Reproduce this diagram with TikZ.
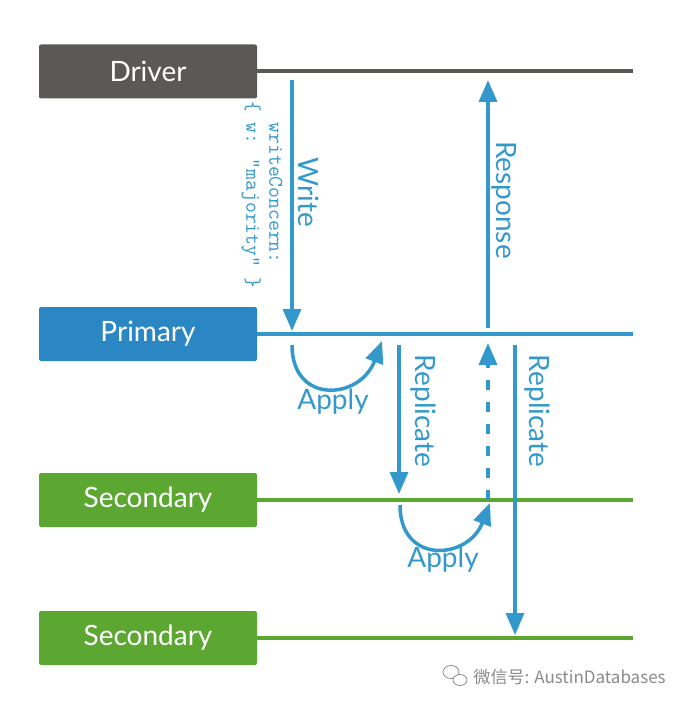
\documentclass[tikz,border=0pt]{standalone}
\usepackage{fontspec}
\setmainfont{Lato}
\newfontfamily\cjkfont{Noto Sans CJK SC}
\usetikzlibrary{arrows.meta}

\definecolor{drvgray}{HTML}{5B5955}
\definecolor{primblue}{HTML}{2B87C3}
\definecolor{lineblue}{HTML}{3399CC}
\definecolor{secgreen}{HTML}{5CA732}
\definecolor{markgray}{HTML}{8A8A8A}

\tikzset{
  box/.style={rectangle,rounded corners=2pt,minimum width=218pt,minimum height=54pt,
    text=white,font=\fontsize{28}{30}\selectfont},
  lane/.style={line width=4pt},
  msg/.style={line width=3.5pt,draw=lineblue,-{Triangle[width=18pt,length=22pt]}},
  msglabel/.style={text=lineblue,font=\fontsize{28}{30}\selectfont},
}

\begin{document}
\begin{tikzpicture}[x=1pt,y=-1pt]
\useasboundingbox (0,0) rectangle (688,706);
% hosts
\node[box,fill=drvgray] (driver) at (148,71.5) {Driver};
\node[box,fill=primblue] (primary) at (148,334) {Primary};
\node[box,fill=secgreen] (secA) at (148,500) {Secondary};
\node[box,fill=secgreen] (secB) at (148,638) {Secondary};
% lanes
\coordinate (driverEnd) at (633,71.5);
\coordinate (primaryEnd) at (633,334);
\coordinate (secAEnd) at (633,500);
\coordinate (secBEnd) at (633,638);
\draw[lane,drvgray] (driver.east) -- (driverEnd);
\draw[lane,lineblue] (primary.east) -- (primaryEnd);
\draw[lane,secgreen] (secA.east) -- (secAEnd);
\draw[lane,secgreen] (secB.east) -- (secBEnd);
% write and response
\coordinate (writeTop) at (292,80);
\coordinate (writeBot) at (292,331);
\coordinate (respBot) at (488,328);
\coordinate (respTop) at (488,80);
\draw[msg] (writeTop) -- (writeBot);
\draw[msg] (respBot) -- (respTop);
\node[msglabel,rotate=-90] (writeLbl) at (309,192) {Write};
\node[msglabel,rotate=-90] (respLbl) at (504,200) {Response};
\node[rotate=-90,align=left,text=lineblue,font=\ttfamily\fontsize{21}{23}\selectfont] (wcLbl) at (262,195)
  {\ \ writeConcern:\\\{ w: "majority" \}};
% apply on primary
\coordinate (applyAStart) at (292,345);
\coordinate (applyAEnd) at (382,341);
\draw[msg] (applyAStart) .. controls (292,405) and (360,400) .. (applyAEnd);
\node[msglabel] (applyALbl) at (333,402) {Apply};
% replicate to secondaries
\coordinate (repATop) at (399,345);
\coordinate (repABot) at (399,494);
\coordinate (repBTop) at (515,345);
\coordinate (repBBot) at (515,635);
\draw[msg] (repATop) -- (repABot);
\draw[msg] (repBTop) -- (repBBot);
\node[msglabel,rotate=-90] (repALbl) at (423,411) {Replicate};
\node[msglabel,rotate=-90] (repBLbl) at (537,411) {Replicate};
% apply on secondary and ack
\coordinate (applyBStart) at (400,505);
\coordinate (applyBEnd) at (490,503);
\draw[msg] (applyBStart) .. controls (400,565) and (468,560) .. (applyBEnd);
\node[msglabel] (applyBLbl) at (443,560) {Apply};
\coordinate (ackBot) at (488,500);
\coordinate (ackTop) at (488,343);
\draw[msg,dash pattern=on 10pt off 12pt] (ackBot) -- (ackTop);
% watermark
\draw[markgray,line width=0.8pt] (451,672) ellipse (8 and 6.5);
\draw[markgray,line width=0.8pt,fill=white] (460,680) ellipse (7 and 5.5);
\node[anchor=west,text=markgray,font=\cjkfont\fontsize{17}{19}\selectfont] (wmark) at (470,677) {微信号: AustinDatabases};
\end{tikzpicture}
\end{document}
